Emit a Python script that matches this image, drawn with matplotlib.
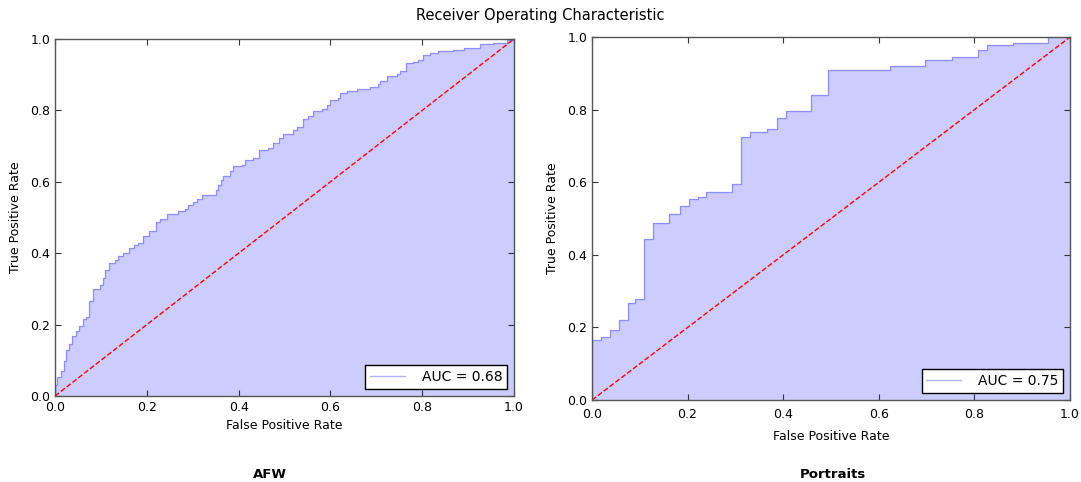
import matplotlib
matplotlib.use("Agg")
import matplotlib.pyplot as plt

# ---- data ----
afw_fpr = [0.0, 0.0, 0.004, 0.012, 0.019, 0.025, 0.031, 0.038, 0.046, 0.053, 0.060, 0.068,
           0.075, 0.082, 0.097, 0.105, 0.109, 0.118, 0.131, 0.138, 0.149, 0.162, 0.171,
           0.181, 0.192, 0.205, 0.220, 0.229, 0.243, 0.269, 0.283, 0.290, 0.300, 0.309,
           0.320, 0.351, 0.356, 0.361, 0.367, 0.381, 0.387, 0.407, 0.414, 0.432, 0.445,
           0.465, 0.474, 0.489, 0.497, 0.519, 0.527, 0.540, 0.552, 0.563, 0.581, 0.592,
           0.599, 0.617, 0.621, 0.636, 0.657, 0.686, 0.704, 0.708, 0.723, 0.744, 0.752,
           0.765, 0.781, 0.791, 0.802, 0.817, 0.835, 0.868, 0.890, 0.926, 0.955, 0.984, 1.0]
afw_tpr = [0.0, 0.030, 0.052, 0.070, 0.098, 0.130, 0.145, 0.168, 0.182, 0.196, 0.215, 0.222,
           0.266, 0.300, 0.310, 0.331, 0.354, 0.373, 0.381, 0.392, 0.401, 0.415, 0.422,
           0.429, 0.448, 0.462, 0.487, 0.496, 0.511, 0.518, 0.524, 0.536, 0.543, 0.552,
           0.562, 0.578, 0.592, 0.606, 0.616, 0.630, 0.644, 0.648, 0.662, 0.667, 0.688,
           0.695, 0.709, 0.723, 0.734, 0.746, 0.754, 0.776, 0.785, 0.797, 0.804, 0.816,
           0.828, 0.835, 0.849, 0.855, 0.860, 0.866, 0.875, 0.881, 0.895, 0.902, 0.909,
           0.933, 0.936, 0.942, 0.956, 0.961, 0.965, 0.970, 0.974, 0.986, 0.990, 0.996, 1.0]
afw_auc = 0.68

por_fpr = [0.0, 0.0, 0.019, 0.038, 0.057, 0.075, 0.090, 0.109, 0.128, 0.162, 0.185, 0.202,
           0.221, 0.238, 0.293, 0.311, 0.330, 0.366, 0.387, 0.406, 0.459, 0.494, 0.624,
           0.696, 0.753, 0.808, 0.827, 0.881, 0.953, 1.0]
por_tpr = [0.0, 0.166, 0.175, 0.194, 0.221, 0.267, 0.278, 0.444, 0.487, 0.513, 0.536, 0.553,
           0.559, 0.573, 0.596, 0.724, 0.739, 0.748, 0.778, 0.796, 0.840, 0.909, 0.921,
           0.937, 0.944, 0.965, 0.977, 0.983, 1.0, 1.0]
por_auc = 0.75

ticks = [0.0, 0.2, 0.4, 0.6, 0.8, 1.0]
tick_labels = ["0.0", "0.2", "0.4", "0.6", "0.8", "1.0"]

plt.rcParams['font.family'] = ['DejaVu Sans']

fig = plt.figure(figsize=(10.81, 4.82), dpi=100)
fig.patch.set_facecolor('white')

ax1 = fig.add_axes([0.0509, 0.1784, 0.4246, 0.7407])
ax2 = fig.add_axes([0.5476, 0.170, 0.4422, 0.753])


def draw(ax, fpr, tpr, auc, xlabelpad, tickpad):
    ax.plot(fpr, tpr, color='blue', alpha=0.3, linewidth=1.0, drawstyle='steps-post',
            label='AUC = %0.2f' % auc)
    ax.fill_between(fpr, tpr, 0, step='post', facecolor='blue', alpha=0.2, linewidth=0)
    ax.plot([0, 1], [0, 1], 'r--', linewidth=1.0)
    ax.set_xlim(0, 1)
    ax.set_ylim(0, 1)
    ax.set_xticks(ticks)
    ax.set_xticklabels(tick_labels)
    ax.set_yticks(ticks)
    ax.set_yticklabels(tick_labels)
    ax.tick_params(direction='in', top=True, right=True, labelsize=9, length=4,
                   width=0.8, colors='#333333', labelcolor='black')
    ax.tick_params(axis='x', pad=tickpad)
    for s in ax.spines.values():
        s.set_color('#555555')
        s.set_linewidth(1.0)
    ax.set_xlabel('False Positive Rate', fontsize=9, labelpad=xlabelpad)
    ax.set_ylabel('True Positive Rate', fontsize=9, labelpad=6)
    leg = ax.legend(loc='lower right', fontsize=10, fancybox=False, framealpha=1,
                    borderpad=0.35, handlelength=2.5, handletextpad=1.2)
    leg.get_frame().set_edgecolor('black')
    leg.get_frame().set_linewidth(1.0)


draw(ax1, afw_fpr, afw_tpr, afw_auc, 4, 3.5)
draw(ax2, por_fpr, por_tpr, por_auc, 6, 6)

fig.text(0.5, 0.968, 'Receiver Operating Characteristic', ha='center', va='center', fontsize=10.5)
fig.text(270 / 1081, 1 - 474 / 482, 'AFW', ha='center', va='center', fontsize=9.5, fontweight='bold')
fig.text(833 / 1081, 1 - 474 / 482, 'Portraits', ha='center', va='center', fontsize=9.5, fontweight='bold')

fig.savefig('out.png', dpi=100, facecolor='white')
